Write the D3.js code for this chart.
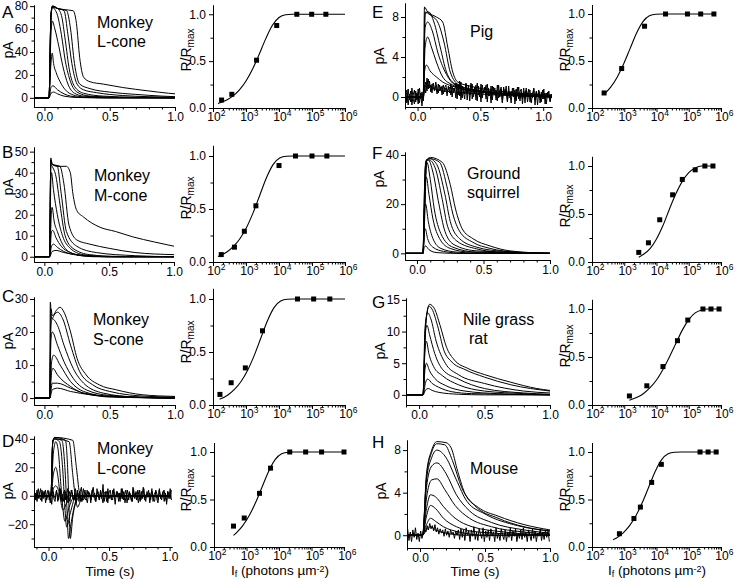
<!DOCTYPE html>
<html><head><meta charset="utf-8">
<script src="https://cdn.jsdelivr.net/npm/d3@7"></script>
<style>
body{margin:0;background:#fff}
svg{display:block}
text{font-family:"Liberation Sans",Arial,sans-serif;fill:#000}
</style>
</head><body>
<svg id="chart" width="742" height="579"></svg>
<script>
// ---------------- DATA ----------------
const panelLetters = ["A","B","C","D","E","F","G","H"];
const speciesLabels = [["Monkey","L-cone"],["Monkey","M-cone"],["Monkey","S-cone"],["Monkey","L-cone"],["Pig"],["Ground","squirrel"],["Nile grass","rat"],["Mouse"]];
const timeTicks = [0, 0.5, 1.0];
const yTicksA = [0,20,40,60,80];
const yTicksB = [0,10,20,30,40,50];
const yTicksC = [0,10,20,30];
const yTicksD = [-20,0,20,40];
const yTicksE = [0,4,8];
const yTicksF = [0,20,40];
const yTicksG = [0,5,10,15];
const yTicksH = [0,4,8];
const rTicks = [0,0.5,1.0];
const intensityTickExps = [2,3,4,5,6];

// flash responses (time s, current pA)
const tracesA = [
 [[-0.08,0],[0.035,0],[0.05,4],[0.07,5],[0.1,3.5],[0.15,1.5],[0.25,0.3],[0.4,0],[1,0]],
 [[-0.08,0],[0.035,0],[0.05,9],[0.065,10.5],[0.1,7],[0.15,3.5],[0.2,1.5],[0.3,0.3],[0.5,0],[1,0]],
 [[-0.08,0],[0.035,0],[0.05,30],[0.06,39],[0.07,30],[0.09,22],[0.12,14],[0.16,7],[0.22,2.5],[0.3,0.8],[0.5,0],[1,0]],
 [[-0.08,0],[0.035,0],[0.05,55],[0.06,67],[0.08,60],[0.11,45],[0.14,28],[0.18,12],[0.23,4],[0.3,1.5],[0.5,0.3],[1,0]],
 [[-0.08,0],[0.035,0],[0.05,70],[0.06,79],[0.08,77],[0.1,72],[0.13,55],[0.16,32],[0.2,14],[0.25,5],[0.35,1.5],[0.6,0.3],[1,0]],
 [[-0.08,0],[0.035,0],[0.05,72],[0.06,80],[0.1,78],[0.13,72],[0.16,50],[0.19,25],[0.23,10],[0.3,4],[0.45,1.5],[0.7,0.5],[1,0]],
 [[-0.08,0],[0.035,0],[0.05,72],[0.06,80],[0.1,78],[0.15,76],[0.18,55],[0.21,30],[0.25,12],[0.3,7],[0.4,4.5],[0.6,2],[0.8,1],[1,0.5]],
 [[-0.08,0],[0.035,0],[0.05,72],[0.065,80],[0.1,78],[0.17,76],[0.2,60],[0.23,30],[0.27,12],[0.35,8],[0.5,5],[0.7,3],[0.9,1.5],[1,1]],
 [[-0.08,0],[0.035,0],[0.05,72],[0.06,79],[0.1,78],[0.15,77],[0.22,76],[0.245,65],[0.27,35],[0.3,18],[0.35,14],[0.45,12],[0.6,9],[0.8,6],[0.95,4],[1,3.5]]
];
const tracesB = [
 [[-0.08,0],[0.04,0],[0.06,2.5],[0.09,3],[0.15,2],[0.25,1],[0.4,0.3],[1,0]],
 [[-0.08,0],[0.04,0],[0.055,5],[0.07,6],[0.1,4.5],[0.15,2.5],[0.25,0.8],[0.4,0],[1,0]],
 [[-0.08,0],[0.04,0],[0.055,12],[0.065,12.5],[0.09,9],[0.13,5],[0.2,2],[0.3,0.5],[0.5,0],[1,0]],
 [[-0.08,0],[0.04,0],[0.055,22],[0.06,23.5],[0.075,17],[0.1,12],[0.14,6],[0.2,2],[0.3,0.5],[0.5,0],[1,0]],
 [[-0.08,0],[0.04,0],[0.05,36],[0.055,40],[0.07,32],[0.1,20],[0.14,10],[0.2,4],[0.3,1],[0.5,0],[1,0]],
 [[-0.08,0],[0.04,0],[0.05,44],[0.06,43],[0.09,38],[0.12,25],[0.16,10],[0.22,4],[0.35,1],[0.6,0],[1,0]],
 [[-0.08,0],[0.04,0],[0.05,46],[0.06,44],[0.1,43],[0.13,30],[0.17,12],[0.25,5],[0.4,2],[0.7,0.5],[1,0]],
 [[-0.08,0],[0.04,0],[0.05,47],[0.06,44],[0.12,43],[0.15,35],[0.19,15],[0.25,8],[0.35,6],[0.5,4],[0.7,2],[1,1]],
 [[-0.08,0],[0.04,0],[0.05,46],[0.06,44],[0.1,43],[0.17,43],[0.2,40],[0.22,30],[0.25,22],[0.3,19],[0.43,14],[0.55,12],[0.68,9.5],[0.85,7],[1,5]]
];
const tracesC = [
 [[-0.08,0],[0.04,0],[0.06,2.5],[0.1,3],[0.2,2],[0.35,1],[0.5,0.3],[1,0]],
 [[-0.08,0],[0.04,0],[0.06,4.5],[0.1,4.5],[0.2,3],[0.3,1.5],[0.5,0.5],[1,0]],
 [[-0.08,0],[0.04,0],[0.055,8],[0.065,9],[0.1,7],[0.2,3.5],[0.3,1.5],[0.5,0.5],[1,0]],
 [[-0.08,0],[0.04,0],[0.055,11],[0.07,13],[0.12,10],[0.2,5],[0.3,2],[0.5,0.5],[1,0]],
 [[-0.08,0],[0.04,0],[0.05,18],[0.06,20],[0.1,16],[0.15,11],[0.22,6],[0.32,2.5],[0.5,0.8],[1,0]],
 [[-0.08,0],[0.04,0],[0.05,22],[0.06,24],[0.1,22],[0.15,16],[0.22,9],[0.3,4.5],[0.45,1.5],[0.7,0.3],[1,0]],
 [[-0.08,0],[0.04,0],[0.05,27],[0.06,25],[0.1,26],[0.14,24],[0.2,16],[0.27,8],[0.37,4],[0.5,2],[0.8,0.5],[1,0.3]],
 [[-0.08,0],[0.04,0],[0.045,29],[0.055,24],[0.09,26.5],[0.12,27.5],[0.15,26],[0.2,20],[0.25,12],[0.32,7],[0.42,4],[0.55,2.5],[0.75,1],[1,0.5]]
];
const tracesD = [
 [[-0.12,0],[0.02,0],[0.04,5],[0.06,7],[0.09,2],[0.11,-4],[0.13,-3],[0.17,0],[1,0]],
 [[-0.12,0],[0.02,0],[0.04,15],[0.06,20],[0.08,12],[0.1,-3],[0.12,-10],[0.15,-5],[0.2,0],[1,0]],
 [[-0.12,0],[0.02,0],[0.04,30],[0.06,38],[0.08,32],[0.1,10],[0.12,-10],[0.135,-18],[0.17,-8],[0.22,0],[1,0]],
 [[-0.12,0],[0.02,0],[0.035,38],[0.05,40],[0.09,38],[0.12,15],[0.135,-8],[0.15,-22],[0.18,-12],[0.23,0],[1,0]],
 [[-0.12,0],[0.02,0],[0.035,38],[0.05,40],[0.11,39],[0.135,20],[0.15,-5],[0.165,-30],[0.185,-20],[0.22,-5],[0.25,0],[1,0]],
 [[-0.12,0],[0.02,0],[0.035,38],[0.05,41],[0.14,39],[0.16,15],[0.172,-15],[0.18,-30],[0.2,-15],[0.235,-3],[0.27,0],[1,0]],
 [[-0.12,0],[0.02,0],[0.035,38],[0.05,40],[0.17,38],[0.2,15],[0.225,-3],[0.24,-8],[0.27,-2],[0.3,0],[1,0]],
 [[-0.12,0],[0.02,0],[0.035,38],[0.05,41],[0.2,39],[0.23,20],[0.255,2],[0.275,-4],[0.31,0],[1,0]]
];
const tracesE = [
 [[-0.1,0],[0.045,0],[0.06,1],[0.08,1.2],[0.12,0.9],[0.2,0.6],[0.3,0.5],[0.5,0.3],[0.8,0.1],[1.07,0]],
 [[-0.1,0],[0.045,0],[0.055,2.5],[0.07,3.2],[0.1,2.6],[0.15,2],[0.2,1.5],[0.3,1],[0.5,0.5],[0.8,0.2],[1.07,0]],
 [[-0.1,0],[0.045,0],[0.06,5],[0.08,6],[0.11,5],[0.15,3.5],[0.2,2],[0.28,1.2],[0.4,0.7],[0.7,0.3],[1.07,0]],
 [[-0.1,0],[0.045,0],[0.06,7],[0.08,7.5],[0.12,6.5],[0.16,4.5],[0.22,2.5],[0.3,1.2],[0.5,0.5],[1.07,0]],
 [[-0.1,0],[0.045,0],[0.06,8.3],[0.09,8.5],[0.13,7.5],[0.18,5],[0.23,2.5],[0.3,1.3],[0.5,0.6],[1.07,0.1]],
 [[-0.1,0],[0.045,0],[0.06,8.5],[0.1,8.2],[0.16,7.5],[0.21,5.5],[0.26,2.5],[0.33,1.2],[0.5,0.6],[1.07,0.1]],
 [[-0.1,0],[0.045,0],[0.055,9],[0.08,8.5],[0.15,8],[0.2,7.5],[0.24,5],[0.28,2.5],[0.32,1.5],[0.45,1],[0.7,0.5],[1.07,0.2]]
];
const tracesF = [
 [[-0.09,0],[0.045,0],[0.055,2.5],[0.065,3],[0.09,1.5],[0.15,0.3],[0.3,0],[1,0]],
 [[-0.09,0],[0.045,0],[0.055,9],[0.062,10],[0.08,6],[0.12,2.5],[0.2,0.8],[0.35,0],[1,0]],
 [[-0.09,0],[0.045,0],[0.055,18],[0.065,20],[0.085,13],[0.12,6],[0.18,2],[0.3,0.5],[0.5,0],[1,0]],
 [[-0.09,0],[0.045,0],[0.058,28],[0.07,31],[0.09,24],[0.12,14],[0.17,6],[0.25,2],[0.4,0.5],[1,0]],
 [[-0.09,0],[0.045,0],[0.062,35],[0.075,37],[0.1,30],[0.13,18],[0.18,8],[0.27,2.5],[0.45,0.5],[1,0]],
 [[-0.09,0],[0.045,0],[0.065,37],[0.085,38],[0.12,33],[0.165,20],[0.21,9],[0.28,3.5],[0.45,1],[1,0]],
 [[-0.09,0],[0.045,0],[0.068,37.5],[0.09,38],[0.135,35],[0.19,22],[0.23,11],[0.3,5],[0.45,1.8],[0.6,0.6],[1,0]],
 [[-0.09,0],[0.045,0],[0.07,38],[0.095,38.5],[0.15,36],[0.21,24],[0.25,13],[0.32,6],[0.45,2.5],[0.65,0.8],[1,0]],
 [[-0.09,0],[0.045,0],[0.072,38],[0.1,38.5],[0.17,37],[0.23,26],[0.27,16],[0.32,9],[0.42,4.5],[0.55,2],[0.75,0.5],[1,0]],
 [[-0.09,0],[0.045,0],[0.075,38],[0.1,39],[0.19,37],[0.25,28],[0.29,18],[0.34,10],[0.42,6],[0.55,3],[0.7,1],[1,0]]
];
const tracesG = [
 [[-0.1,0],[0.03,0],[0.05,0.8],[0.07,1],[0.1,0.7],[0.15,0.4],[0.3,0.1],[0.5,0],[1,0]],
 [[-0.1,0],[0.03,0],[0.05,2],[0.065,2.5],[0.1,1.8],[0.15,1.2],[0.25,0.5],[0.4,0.2],[1,0]],
 [[-0.1,0],[0.03,0],[0.045,4],[0.055,5],[0.08,3.8],[0.12,2.6],[0.2,1.5],[0.35,0.6],[0.6,0.2],[1,0]],
 [[-0.1,0],[0.03,0],[0.045,7],[0.055,8.5],[0.075,6.5],[0.11,4.5],[0.18,3],[0.3,1.6],[0.5,0.6],[0.8,0.2],[1,0]],
 [[-0.1,0],[0.03,0],[0.045,9],[0.06,11],[0.08,9.5],[0.12,6.5],[0.18,4],[0.3,2.5],[0.5,1],[0.8,0.3],[1,0.1]],
 [[-0.1,0],[0.03,0],[0.045,10.5],[0.065,13],[0.09,12],[0.13,8.5],[0.2,5],[0.3,3.2],[0.5,1.8],[0.8,0.6],[1,0.3]],
 [[-0.1,0],[0.03,0],[0.05,11],[0.075,14],[0.1,13.5],[0.14,11],[0.19,7],[0.25,5.2],[0.35,4],[0.5,2.8],[0.7,1.6],[1,0.6]],
 [[-0.1,0],[0.03,0],[0.05,11],[0.08,14.3],[0.12,13.5],[0.16,11],[0.21,7.5],[0.27,5.5],[0.37,4.2],[0.5,3.2],[0.7,2],[0.9,1],[1,0.7]]
];
const tracesH = [
 [[-0.1,0],[0.02,0],[0.05,0.5],[0.08,0.8],[0.12,0.5],[0.2,0.2],[0.35,0],[1,0]],
 [[-0.1,0],[0.02,0],[0.05,1],[0.08,1.6],[0.12,1.3],[0.18,0.8],[0.3,0.3],[0.5,0],[1,0]],
 [[-0.1,0],[0.02,0],[0.05,1.8],[0.08,2.8],[0.12,2.5],[0.18,1.6],[0.28,0.8],[0.45,0.3],[1,0]],
 [[-0.1,0],[0.02,0],[0.05,2.5],[0.08,3.8],[0.12,3.6],[0.18,2.7],[0.27,1.6],[0.4,0.8],[0.65,0.3],[1,0]],
 [[-0.1,0],[0.02,0],[0.05,3.5],[0.09,5.2],[0.13,5.3],[0.19,4.3],[0.27,2.8],[0.38,1.6],[0.55,0.8],[0.8,0.3],[1,0.1]],
 [[-0.1,0],[0.02,0],[0.05,4.5],[0.09,6.5],[0.13,6.8],[0.2,5.8],[0.28,3.8],[0.38,2.3],[0.55,1.2],[0.8,0.5],[1,0.2]],
 [[-0.1,0],[0.02,0],[0.05,5.2],[0.09,7.3],[0.13,8],[0.2,7.3],[0.28,5.2],[0.36,3.2],[0.5,2],[0.75,0.9],[1,0.4]],
 [[-0.1,0],[0.02,0],[0.05,5.5],[0.09,7.8],[0.13,8.6],[0.19,8.5],[0.25,7],[0.32,4.5],[0.42,2.8],[0.6,1.6],[0.8,0.8],[1,0.4]],
 [[-0.1,0],[0.02,0],[0.05,5.8],[0.09,8],[0.13,8.8],[0.2,8.7],[0.24,8.2],[0.29,6],[0.35,3.8],[0.45,2.6],[0.6,1.8],[0.8,1],[1,0.5]]
];
// recording noise read from the noisy baselines (pA), sampled evenly over each sweep
const noiseD = [2,-3,4,-2,1,5,-4,3,-1,4,-3,0,3,-5,2,6,-2,-4,3,1,-3,5,-1,-4,2,4,-3,1,-5,3,0,4,-2,-3,5,-1,2,-4,3,6,-3,0,4,-2,-5,3,1,-3,4,-1,2,-4,5,0,-3,3,-2,8,-4,1,3,-5,2,4,-2,-3,5,-1,0,3,-4,2,-2,5,-3,1,4,-5,0,3,-2,-4,6,-1,2,-3,4,0,-4,3,-2,5,-3,1,-1,4,-5,2,3,-2,-4,4,1,-3,5,-2,0,3,-4,2,-6,3,1,-2,4];
const noiseD2 = [-3,2,-4,5,-1,-3,4,-2,3,-5,1,4,-3,2,-6,3,0,-2,4,-4,2,5,-3,1,-4,3,-1,5,-2,-4,4,1,-3,2,-5,4,-1,3,-4,0,5,-2,-3,4,-1,2,-5,3,6,-2,-4,1,3,-3,4,-1,-5,2,3,-4,5,-2,0,-3,4,1,-6,3,-1,2,-4,5,-2,3,-5,0,4,-3,2,-1,-4,5,-2,3,0,-5,4,-3,1,6,-2,-4,3,-1,2,-3,5,-4,1,3,-2,-5,4,0,-3,2,4,-1,-4,3,-2,5,-3];
const noiseE = [0.5,-0.6,0.8,-0.3,0.6,-0.8,0.2,0.7,-0.5,0.4,-0.7,0.9,-0.2,0.5,-0.4,
 0.8,1.5,0.6,1.8,0.9,1.2,0.4,1.4,0.7,1.1,0.3,1.3,0.6,1.0,0.2,1.2,0.5,0.9,0.1,1.1,0.4,1.3,0.0,0.9,0.6,
 1.4,-0.2,1.2,0.1,1.5,-0.1,0.9,0.3,1.3,-0.3,1.0,0.2,1.4,-0.2,0.8,0.4,1.2,-0.4,1.1,0.0,1.3,-0.1,0.7,0.5,1.2,-0.5,0.9,0.1,1.1,-0.3,1.0,0.2,0.6,-0.4,1.2,0.0,0.8,-0.6,1.0,0.3,0.7,-0.5,1.1,-0.1,0.6,0.2,0.9,-0.7,0.8,0.1,1.0,-0.4,0.5,-0.2,0.9,-0.6,0.7,0.2,0.8,-0.5,0.4,-0.1,0.9,-0.8,0.6,0.0,0.7,-0.6,0.5,-0.2,0.8,-0.7,0.4,0.1,0.6,-0.5,0.3];
const noiseE2 = [-0.4,0.7,-0.8,0.3,-0.5,0.9,-0.2,-0.7,0.6,-0.3,0.8,-0.6,0.4,-0.9,0.5,
 1.2,0.4,1.9,0.8,1.6,0.5,1.3,1.0,0.6,1.5,0.8,0.4,1.2,0.7,1.1,0.3,0.9,1.2,0.5,0.8,1.0,0.2,1.1,0.4,0.9,
 -0.1,1.3,0.2,1.6,-0.3,1.1,0.5,-0.2,1.4,0.3,1.2,-0.4,0.9,1.3,0.0,1.0,-0.3,1.4,0.2,0.7,-0.5,1.2,0.4,1.0,-0.2,1.3,0.1,0.6,-0.6,1.1,0.3,0.9,-0.3,1.2,-0.1,0.5,1.0,-0.5,0.8,0.2,1.1,-0.4,0.6,0.3,-0.6,0.9,0.0,0.7,-0.4,1.0,-0.2,0.5,0.8,-0.7,0.6,0.1,0.9,-0.5,0.4,0.7,-0.6,0.3,0.8,-0.3,0.5,-0.8,0.6,0.2,-0.5,0.7,-0.2,0.4,-0.7,0.5,0.0,-0.4,0.3];
const noiseH = [0.6,-0.5,0.3,-0.6,0.5,-0.2,0.7,-0.4,0.2,-0.6,0.4,-0.3,
 0.2,0.6,0.3,0.9,0.5,1.1,0.6,0.9,0.4,1.0,0.3,0.7,0.1,0.6,0.2,0.5,-0.1,0.6,0.0,0.4,-0.2,0.5,0.1,0.3,-0.3,0.4,0.0,0.5,
 -0.4,0.6,-0.2,0.5,-0.5,0.7,0.0,0.4,-0.6,0.5,-0.1,0.8,-0.4,0.3,-0.5,0.6,0.1,-0.3,0.7,-0.6,0.4,-0.2,0.5,-0.5,0.6,-0.1,0.3,-0.6,0.7,-0.3,0.2,-0.5,0.6,0.0,-0.4,0.5,-0.6,0.3,-0.2,0.7,-0.5,0.4,-0.1,0.6,-0.6,0.2,-0.3,0.5,-0.4,0.7,-0.2,0.3,-0.6,0.5,0.0,-0.5,0.6,-0.3,0.4,-0.6,0.2,-0.1,0.6,-0.5,0.3,-0.4,0.5,-0.2,0.4,-0.6];

// intensity-response: [log10 flash strength (photons um^-2), R/Rmax]
const pointsA = [[2.26,0.085],[2.57,0.146],[3.32,0.51],[3.93,0.88],[4.54,1],[4.99,1],[5.42,1]];
const fitA = [[2.15,0.047],[2.4,0.082],[2.6,0.126],[2.8,0.193],[3.0,0.288],[3.2,0.416],[3.4,0.573],[3.6,0.74],[3.8,0.882],[4.0,0.966],[4.2,0.995],[4.4,1],[6,1]];
const pointsB = [[2.25,0.07],[2.65,0.14],[2.95,0.29],[3.3,0.53],[4.0,0.91],[4.5,1],[5.0,1],[5.45,1]];
const fitB = [[2.15,0.052],[2.22,0.061],[2.42,0.095],[2.62,0.147],[2.82,0.222],[3.02,0.328],[3.22,0.468],[3.42,0.632],[3.62,0.795],[3.82,0.919],[4.02,0.981],[4.22,0.998],[4.42,1],[6,1]];
const pointsC = [[2.21,0.1],[2.55,0.21],[2.98,0.35],[3.5,0.7],[4.56,1],[5.05,1],[5.54,1]];
const fitC = [[2.2,0.055],[2.25,0.061],[2.45,0.095],[2.65,0.147],[2.85,0.222],[3.05,0.328],[3.25,0.468],[3.45,0.632],[3.65,0.795],[3.85,0.919],[4.05,0.981],[4.25,0.998],[4.45,1],[6,1]];
const pointsD = [[2.6,0.22],[2.93,0.305],[3.4,0.565],[3.74,0.83],[4.33,1],[4.82,1],[5.31,1],[6.0,1]];
const fitD = [[2.6,0.123],[2.68,0.147],[2.88,0.222],[3.08,0.328],[3.28,0.468],[3.48,0.632],[3.68,0.795],[3.88,0.919],[4.08,0.981],[4.28,0.998],[4.48,1],[6,1]];
const pointsE = [[2.375,0.16],[2.92,0.42],[3.63,0.87],[4.28,1],[4.96,1],[5.37,1],[5.78,1]];
const fitE = [[2.37,0.145],[2.58,0.222],[2.78,0.328],[2.98,0.468],[3.18,0.632],[3.38,0.795],[3.58,0.919],[3.78,0.981],[3.98,0.998],[4.18,1],[5.8,1]];
const pointsF = [[3.45,0.1],[3.75,0.2],[4.1,0.44],[4.5,0.7],[4.8,0.86],[5.2,0.96],[5.5,1],[5.75,1]];
const fitF = [[3.45,0.05],[3.6,0.08],[3.8,0.14],[4.0,0.24],[4.2,0.38],[4.4,0.55],[4.6,0.71],[4.8,0.84],[5.0,0.93],[5.2,0.98],[5.4,1],[5.75,1]];
const pointsG = [[3.16,0.094],[3.7,0.2],[4.2,0.4],[4.65,0.67],[4.97,0.885],[5.44,1],[5.69,1],[5.94,1]];
const fitG = [[3.16,0.05],[3.4,0.08],[3.6,0.12],[3.8,0.18],[4.0,0.26],[4.2,0.37],[4.4,0.5],[4.6,0.64],[4.8,0.78],[5.0,0.89],[5.2,0.96],[5.4,0.99],[5.6,1],[5.94,1]];
const pointsH = [[2.85,0.14],[3.3,0.3],[3.5,0.42],[3.85,0.68],[4.15,0.87],[5.35,1],[5.6,1],[5.85,1]];
const fitH = [[2.65,0.075],[2.76,0.095],[2.96,0.147],[3.16,0.222],[3.36,0.328],[3.56,0.468],[3.76,0.632],[3.96,0.795],[4.16,0.919],[4.36,0.981],[4.56,0.998],[4.76,1],[5.85,1]];

// ---------------- LAYOUT ----------------
const svg = d3.select("#chart");
const FONT = '"Liberation Sans", Arial, sans-serif';

const leftPanels = [
 {traces:tracesA, yTicks:yTicksA, yMinorStep:10, xDom:[-0.08,1.0], xR:[34,175], yDom:[-8,81], yR:[107,5], letter:[2,18], lab:[97,28,47], pA:50},
 {traces:tracesB, yTicks:yTicksB, yMinorStep:5, xDom:[-0.08,1.0], xR:[34,174], yDom:[-2.5,52.2], yR:[262,147], letter:[2,158], lab:[94,181,201], pA:187},
 {traces:tracesC, yTicks:yTicksC, yMinorStep:5, xDom:[-0.08,1.0], xR:[34,175], yDom:[-2.1,30.6], yR:[405,297], letter:[2,302], lab:[93,325,345], pA:341},
 {traces:tracesD, yTicks:yTicksD, yMinorStep:10, xDom:[-0.12,1.02], xR:[34,172], yDom:[-36,42], yR:[547,436], letter:[2,447], lab:[97,454,474], pA:491, noise:[noiseD,noiseD2], xlabel:[110,576]},
 {traces:tracesE, yTicks:yTicksE, yMinorStep:2, xDom:[-0.1,1.07], xR:[405,552], yDom:[-1,9.4], yR:[107,3], letter:[372,18], lab:[470,37], pA:56, noise:[noiseE,noiseE2]},
 {traces:tracesF, yTicks:yTicksF, yMinorStep:10, xDom:[-0.09,1.0], xR:[405,550], yDom:[-2.7,41.2], yR:[260,152], letter:[372,159], lab:[467,179,198], pA:179},
 {traces:tracesG, yTicks:yTicksG, yMinorStep:2.5, xDom:[-0.1,1.0], xR:[406,550], yDom:[-1.6,15.3], yR:[405,298], letter:[372,308], lab:[463,325,344,469], pA:351},
 {traces:tracesH, yTicks:yTicksH, yMinorStep:2, xDom:[-0.1,1.0], xR:[407,550], yDom:[-1.2,8.95], yR:[548,440], letter:[372,448], lab:[470,474], pA:491, noise:[noiseH], xlabel:[475,576]}
];
const rightPanels = [
 {pts:pointsA, fit:fitA, xR:[213,345], yR:[108,4.9], rlab:[191,50]},
 {pts:pointsB, fit:fitB, xR:[213,345], yR:[262,145.4], rlab:[191,198]},
 {pts:pointsC, fit:fitC, xR:[213,345], yR:[405,288.4], rlab:[191,342]},
 {pts:pointsD, fit:fitD, xR:[214,344], yR:[547,442.5], rlab:[191,490], xlabel:[280,575]},
 {pts:pointsE, fit:fitE, xR:[592,721], yR:[108,4.6], rlab:[570,50]},
 {pts:pointsF, fit:fitF, xR:[592,721], yR:[262,156.4], rlab:[570,206]},
 {pts:pointsG, fit:fitG, xR:[592,721], yR:[405,299.4], rlab:[570,346]},
 {pts:pointsH, fit:fitH, xR:[592,721], yR:[547,442.5], rlab:[570,490], xlabel:[657,575]}
];

function styleAxis(g, fs){
  g.selectAll("path,line").attr("stroke","#000").attr("stroke-width",1);
  g.selectAll("text").attr("font-family",FONT).attr("font-size",fs||12).attr("fill","#000");
}

leftPanels.forEach((p,i)=>{
  const x = d3.scaleLinear().domain(p.xDom).range(p.xR);
  const y = d3.scaleLinear().domain(p.yDom).range(p.yR);
  const g = svg.append("g");
  const line = d3.line().x(d=>x(d[0])).y(d=>y(d[1])).curve(d3.curveMonotoneX);
  if(p.noise){
    p.noise.forEach(nz=>{
      const n = nz.length;
      const t0 = p.xDom[0]+0.005, t1 = p.xDom[1]-0.005;
      const pts = nz.map((v,k)=>[t0+k*(t1-t0)/(n-1), v]);
      g.append("path").attr("d", d3.line().x(d=>x(d[0])).y(d=>y(d[1]))(pts))
        .attr("fill","none").attr("stroke","#000").attr("stroke-width",1);
    });
  }
  p.traces.forEach(tr=>{
    g.append("path").attr("d",line(tr)).attr("fill","none").attr("stroke","#000").attr("stroke-width",1);
  });
  // axes
  const minorX = d3.range(Math.ceil(p.xDom[0]*10)/10, p.xDom[1]+1e-9, 0.1).filter(v=>Math.abs(v*2-Math.round(v*2))>1e-6);
  const gx = g.append("g").attr("transform",`translate(0,${p.yR[0]})`)
    .call(d3.axisBottom(x).tickValues(timeTicks).tickFormat(d3.format(".1f")).tickSize(4).tickPadding(1).tickSizeOuter(0));
  styleAxis(gx);
  const gxm = g.append("g").attr("transform",`translate(0,${p.yR[0]})`)
    .call(d3.axisBottom(x).tickValues(minorX).tickFormat("").tickSize(2.5).tickSizeOuter(0));
  styleAxis(gxm);
  const ymin = d3.range(Math.ceil(p.yDom[0]/p.yMinorStep)*p.yMinorStep, p.yDom[1]+1e-9, p.yMinorStep).filter(v=>!p.yTicks.includes(+v.toFixed(4)));
  const gy = g.append("g").attr("transform",`translate(${p.xR[0]},0)`)
    .call(d3.axisLeft(y).tickValues(p.yTicks).tickSize(4).tickPadding(2).tickSizeOuter(0));
  styleAxis(gy);
  const gym = g.append("g").attr("transform",`translate(${p.xR[0]},0)`)
    .call(d3.axisLeft(y).tickValues(ymin).tickFormat("").tickSize(2.5).tickSizeOuter(0));
  styleAxis(gym);
  // letter
  svg.append("text").attr("x",p.letter[0]).attr("y",p.letter[1]).attr("font-size",17).text(panelLetters[i]);
  // species label
  const sl = speciesLabels[i];
  svg.append("text").attr("x",p.lab[0]).attr("y",p.lab[1]).attr("font-size",16).text(sl[0]);
  if(sl[1]) svg.append("text").attr("x",p.lab[3]!==undefined?p.lab[3]:p.lab[0]).attr("y",p.lab[2]).attr("font-size",16).text(sl[1]);
  // y label
  svg.append("text").attr("transform",`translate(${p.xR[0]-21},${p.pA}) rotate(-90)`)
    .attr("text-anchor","middle").attr("font-size",14).text("pA");
  if(p.xlabel){
    svg.append("text").attr("x",p.xlabel[0]).attr("y",p.xlabel[1]).attr("text-anchor","middle").attr("font-size",13.5).text("Time (s)");
  }
});

rightPanels.forEach((p,i)=>{
  const x = d3.scaleLog().domain([1e2,1e6]).range(p.xR);
  const y = d3.scaleLinear().domain([0,1.1]).range(p.yR);
  const g = svg.append("g");
  const line = d3.line().x(d=>x(Math.pow(10,d[0]))).y(d=>y(d[1])).curve(d3.curveMonotoneX);
  g.append("path").attr("d",line(p.fit)).attr("fill","none").attr("stroke","#000").attr("stroke-width",1.1);
  g.selectAll("rect.pt").data(p.pts).enter().append("rect")
    .attr("x",d=>x(Math.pow(10,d[0]))-2.5).attr("y",d=>y(d[1])-2.5).attr("width",5).attr("height",5).attr("fill","#000");
  // x axis (log)
  const majors = intensityTickExps.map(e=>Math.pow(10,e));
  const minors = [];
  for(let e=2;e<6;e++) for(let m=2;m<10;m++) minors.push(m*Math.pow(10,e));
  const gx = g.append("g").attr("transform",`translate(0,${p.yR[0]})`)
    .call(d3.axisBottom(x).tickValues(majors).tickFormat("").tickSize(4).tickSizeOuter(0));
  styleAxis(gx);
  gx.selectAll(".tick").append("text").attr("x",-6.2).attr("y",12.5).attr("text-anchor","start")
    .attr("font-family",FONT).attr("font-size",12).attr("fill","#000")
    .each(function(d){
      const e = Math.round(Math.log10(d));
      const t = d3.select(this);
      t.append("tspan").text("10");
      t.append("tspan").attr("dy",-5).attr("font-size",8.5).text(e);
    });
  const gxm = g.append("g").attr("transform",`translate(0,${p.yR[0]})`)
    .call(d3.axisBottom(x).tickValues(minors).tickFormat("").tickSize(2.5).tickSizeOuter(0));
  styleAxis(gxm);
  const gy = g.append("g").attr("transform",`translate(${p.xR[0]},0)`)
    .call(d3.axisLeft(y).tickValues(rTicks).tickFormat(d3.format(".1f")).tickSize(4).tickPadding(3).tickSizeOuter(0));
  styleAxis(gy, 12);
  const gym = g.append("g").attr("transform",`translate(${p.xR[0]},0)`)
    .call(d3.axisLeft(y).tickValues([0.25,0.75]).tickFormat("").tickSize(2.5).tickSizeOuter(0));
  styleAxis(gym);
  // y label R/Rmax
  const t = svg.append("text").attr("transform",`translate(${p.rlab[0]},${p.rlab[1]}) rotate(-90)`)
    .attr("text-anchor","middle").attr("font-size",14);
  t.append("tspan").text("R/R");
  t.append("tspan").attr("dy",3).attr("font-size",10).text("max");
  if(p.xlabel){
    const xl = svg.append("text").attr("x",p.xlabel[0]).attr("y",p.xlabel[1]).attr("text-anchor","middle").attr("font-size",13.5);
    xl.append("tspan").text("I");
    xl.append("tspan").attr("dy",2).attr("font-size",9).text("f");
    xl.append("tspan").attr("dy",-2).text(" (photons \u00b5m");
    xl.append("tspan").attr("dy",-3.5).attr("font-size",9).text("-2");
    xl.append("tspan").attr("dy",3.5).text(")");
  }
});
</script>
</body></html>
